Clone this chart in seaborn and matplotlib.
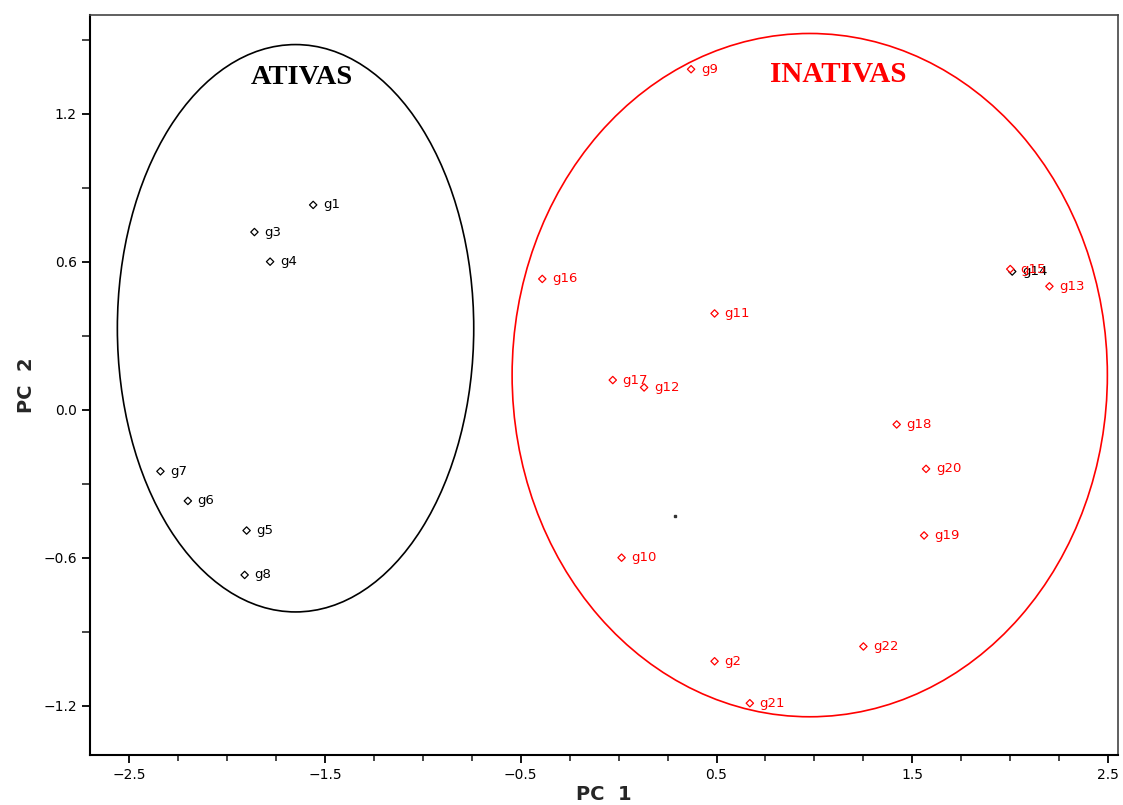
import matplotlib
matplotlib.use("Agg")
import matplotlib.pyplot as plt
from matplotlib.patches import Ellipse
from matplotlib.ticker import MultipleLocator, FixedLocator, FuncFormatter
import seaborn as sns
import pandas as pd

# ---- data ----
labels = ["g1", "g3", "g4", "g7", "g6", "g5", "g8", "g14",
          "g9", "g16", "g11", "g17", "g12", "g18", "g20", "g19",
          "g10", "g2", "g22", "g21", "g15", "g13"]
pc1 = [-1.56, -1.86, -1.78, -2.34, -2.20, -1.90, -1.91, 2.01,
       0.37, -0.39, 0.49, -0.03, 0.13, 1.42, 1.57, 1.56,
       0.015, 0.49, 1.25, 0.67, 2.00, 2.20]
pc2 = [0.83, 0.72, 0.60, -0.25, -0.37, -0.49, -0.67, 0.56,
       1.38, 0.53, 0.39, 0.12, 0.09, -0.06, -0.24, -0.51,
       -0.60, -1.02, -0.96, -1.19, 0.57, 0.50]
group = ["ATIVAS"] * 8 + ["INATIVAS"] * 14
centroid = (0.29, -0.43)

# ellipses: (center x, center y, width, height)
ell_ativas = (-1.65, 0.33, 1.82, 2.30)
ell_inativas = (0.976, 0.14, 3.04, 2.77)

x_tick_labels = [-2.5, -1.5, -0.5, 0.5, 1.5, 2.5]
y_tick_labels = [-1.2, -0.6, 0.0, 0.6, 1.2]

colors = {"ATIVAS": "black", "INATIVAS": "#ff0000"}

df = pd.DataFrame({"label": labels, "PC1": pc1, "PC2": pc2, "group": group})

sns.set_style("white")
fig = plt.figure(figsize=(11.23, 8.05), dpi=100)
ax = fig.add_axes([0.0801, 0.0621, 0.9154, 0.9193])

sns.scatterplot(data=df, x="PC1", y="PC2", hue="group", palette=colors,
                marker="D", s=14, linewidth=0.9,
                legend=False, ax=ax, zorder=3)
coll = ax.collections[0]
coll.set_edgecolors(coll.get_facecolors())
coll.set_facecolors("white")

for i, r in df.iterrows():
    z = 5 if r["label"] == "g15" else 4
    ax.annotate(r["label"], (r["PC1"], r["PC2"]), xytext=(7, 0),
                textcoords="offset points", va="center", ha="left",
                fontsize=9.5, color=colors[r["group"]], zorder=z)
ax.plot([centroid[0]], [centroid[1]], marker="s", ms=1.5, color="#333333",
        linestyle="none")

for (cx, cy, w, h), col in [(ell_ativas, "black"), (ell_inativas, "#ff0000")]:
    ax.add_patch(Ellipse((cx, cy), w, h, fill=False, edgecolor=col, lw=1.2))

ax.text(-1.62, 1.345, "ATIVAS", fontsize=20.5, fontweight="bold",
        family="Liberation Serif", color="black", ha="center", va="center")
ax.text(1.12, 1.36, "INATIVAS", fontsize=21, fontweight="bold",
        family="Liberation Serif", color="#ff0000", ha="center", va="center")

ax.set_xlim(-2.70, 2.55)
ax.set_ylim(-1.40, 1.60)

ax.xaxis.set_major_locator(FixedLocator(x_tick_labels))
ax.xaxis.set_minor_locator(MultipleLocator(0.25))
ax.yaxis.set_major_locator(FixedLocator(y_tick_labels))
ax.yaxis.set_minor_locator(MultipleLocator(0.3))
ax.xaxis.set_major_formatter(FuncFormatter(lambda v, p: f"{v:.1f}".replace("-", "\u2212")))
ax.yaxis.set_major_formatter(FuncFormatter(lambda v, p: f"{v:.1f}".replace("-", "\u2212")))
ax.tick_params(axis="both", which="major", direction="out", length=6, width=1.3,
               labelsize=10, colors="black", bottom=True, left=True)
ax.tick_params(axis="x", which="minor", direction="out", length=4, width=1.2, bottom=True)
ax.tick_params(axis="y", which="minor", direction="out", length=6, width=1.2, left=True)

for s in ["left", "bottom"]:
    ax.spines[s].set_color("black")
    ax.spines[s].set_linewidth(1.5)
for s in ["top", "right"]:
    ax.spines[s].set_color("#444444")
    ax.spines[s].set_linewidth(1.2)

ax.set_xlabel("PC  1", fontsize=14, fontweight="bold", labelpad=2)
ax.set_ylabel("PC  2", fontsize=14, fontweight="bold", labelpad=5)

fig.savefig("out.png", dpi=100)
